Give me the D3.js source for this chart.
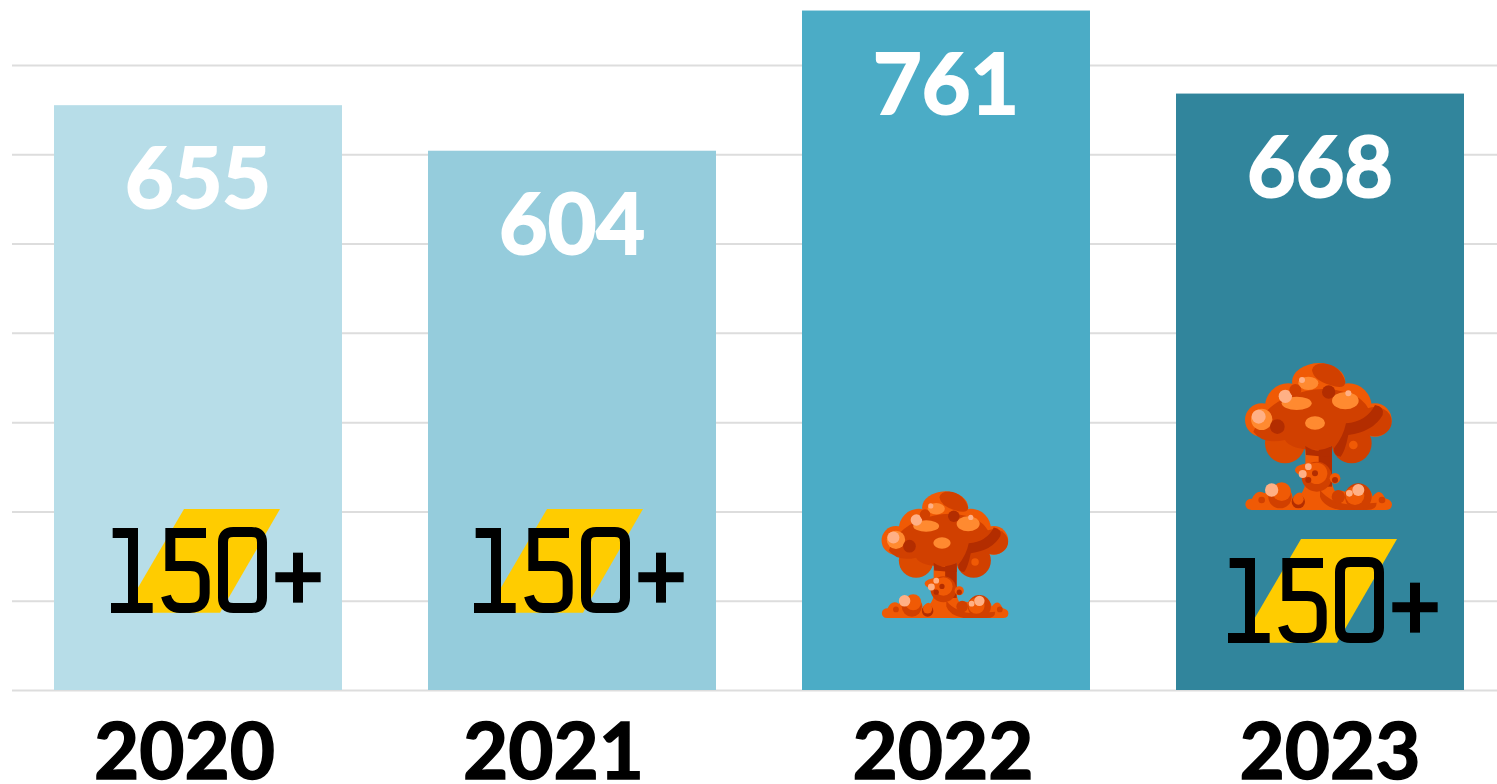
<!DOCTYPE html>
<html><head><meta charset="utf-8">
<script src="https://cdn.jsdelivr.net/npm/d3@7"></script>
<style>html,body{margin:0;padding:0;background:#fff;overflow:hidden}svg{display:block}text{font-family:Lato,sans-serif;font-weight:700}</style>
</head><body><svg id="c" width="1497" height="784"></svg>
<script>
const years = ["2020","2021","2022","2023"];
const values = [655,604,761,668];
const barColors = ["#B7DDE8","#95CCDC","#4BACC6","#31859C"];
const gridTicks = [0,100,200,300,400,500,600,700];

const svg = d3.select("#c");
const x = d3.scaleBand().domain(years).range([11,1507]).paddingInner(0.23).paddingOuter(0.115);
const y = d3.scaleLinear().domain([0,700]).range([690,65]);

const grid = svg.append("g").attr("transform","translate(12,0)")
  .call(d3.axisLeft(y).tickValues(gridTicks).tickSize(-1490).tickFormat(""));
grid.select(".domain").remove();
grid.selectAll("line").attr("stroke","#DDDDDD").attr("stroke-width",2);

svg.selectAll("rect.bar").data(years).join("rect").attr("class","bar")
  .attr("x",d=>x(d)).attr("width",x.bandwidth())
  .attr("y",(d,i)=>y(values[i])).attr("height",(d,i)=>y(0)-y(values[i]))
  .attr("fill",(d,i)=>barColors[i]);

svg.selectAll("text.val").data(years).join("text").attr("class","val")
  .attr("x",d=>x(d)+x.bandwidth()/2).attr("y",(d,i)=>y(values[i])+103)
  .attr("text-anchor","middle").attr("fill","#fff").attr("stroke","#fff").attr("stroke-width",2).attr("font-size",84)
  .text((d,i)=>values[i]);

const labelShift = [-13.5,-18.5,-3,10];
const ax = svg.append("g").attr("transform","translate(0,690)").call(d3.axisBottom(x).tickSize(0));
ax.select(".domain").remove();
ax.selectAll("text").attr("font-size",78).attr("fill","#000").attr("stroke","#000").attr("stroke-width",1.5).attr("y",0).attr("dy",89)
  .attr("dx",(d,i)=>labelShift[i]).style("font-family","Lato,sans-serif").style("font-weight",700);

function badge(dx,dy){
  const g = svg.append("g").attr("transform",`translate(${dx},${dy}) scale(${1/3})`);
  g.append("path").attr("d","M312 57H600L420 368H130Z").attr("fill","#FFCC00");
  const s = {fill:"none",stroke:"#000","stroke-width":30};
  const p = d => { const e=g.append("path").attr("d",d); Object.entries(s).forEach(([k,v])=>e.attr(k,v)); };
  p("M98 129H159V354"); p("M93 354H218");
  p("M378 129H271V228H330Q374 228 374 272V310Q374 354 330 354H300Q268 354 258 318");
  p("M460 126H515Q546 126 546 157V323Q546 354 515 354H460Q429 354 429 323V157Q429 126 460 126Z");
  p("M586 262H722"); p("M654 188V338");
}
function cloud(dx,dy,k){
  const g = svg.append("g").attr("transform",`translate(${dx},${dy}) scale(${k/3})`);
  const c=(cx,cy,r,f)=>g.append("circle").attr("cx",cx).attr("cy",cy).attr("r",r).attr("fill",f);
  const e=(cx,cy,rx,ry,f)=>g.append("ellipse").attr("cx",cx).attr("cy",cy).attr("rx",rx).attr("ry",ry).attr("fill",f);
  const P=(d,f)=>g.append("path").attr("d",d).attr("fill",f);
  const o="#F05A05", m="#D14000", d="#B32D00", l="#FF8A30", w="#FFB085";
  // stem
  P("M256 290H336V400Q345 450 420 480H170Q250 450 256 400Z",o);
  P("M296 290H336V410H296Z",d);
  // cap
  [[296,120,80],[205,170,70],[385,170,70],[125,210,50],[465,210,50]].forEach(a=>c(a[0],a[1],a[2],o));
  c(195,280,60,"#DC4A00"); c(395,280,60,m);
  e(296,95,80,55,o);
  P("M276 60Q280 40 310 40Q360 45 376 95Q376 120 330 105Q280 90 276 60Z",m);
  P("M100 245Q130 170 205 140Q300 100 385 130Q450 150 456 215L380 225Q370 290 296 300Q210 300 195 270Q130 285 100 245Z",m);
  e(465,215,50,44,m);
  P("M465 165Q495 170 488 195Q460 245 385 255Q375 305 362 320Q340 320 342 295Q370 260 378 220Q440 215 465 165Z",d);
  P("M256 288Q296 315 336 288V320Q300 320 258 315Z",d);
  c(400,285,13,o);
  e(285,219,30,20,l);
  e(230,160,45,20,l); e(376,152,40,26,l); e(265,100,30,20,l); c(125,208,32,l);
  c(116,200,21,w); c(196,139,20,w); c(246,90,9,w); c(385,130,9,w);
  c(172,230,22,d); c(326,126,20,d); c(226,120,18,m);
  // base
  P("M94 480Q76 478 76 462Q78 446 96 446Q110 415 135 430Q160 395 195 410Q225 430 215 450Q235 410 255 440L256 400H300Q320 445 345 445Q350 415 375 425Q395 395 430 405Q455 420 458 440Q480 410 495 445Q516 450 516 464Q514 480 498 480Z",o);
  c(180,440,35,m); c(185,425,28,o); c(125,450,10,m); c(486,450,10,m); c(235,455,20,d); c(235,448,16,o);
  P("M300 420Q340 470 420 462L470 458Q470 480 440 480H360Q310 470 300 440Z",m);
  c(415,440,40,m); c(405,437,28,o); c(355,440,20,m); c(155,420,20,w); c(415,420,18,w); c(388,430,10,w);
  // puff
  c(290,380,45,m); c(345,385,16,o); e(270,360,45,20,o); c(290,370,32,o);
  c(265,350,10,w); c(248,372,12,w); c(285,370,9,d); c(265,390,9,d); c(345,390,9,d);
}
badge(80,490); badge(443,490); badge(1197,520);
cloud(1220,350,1);
cloud(860,480,0.863);
</script></body></html>
